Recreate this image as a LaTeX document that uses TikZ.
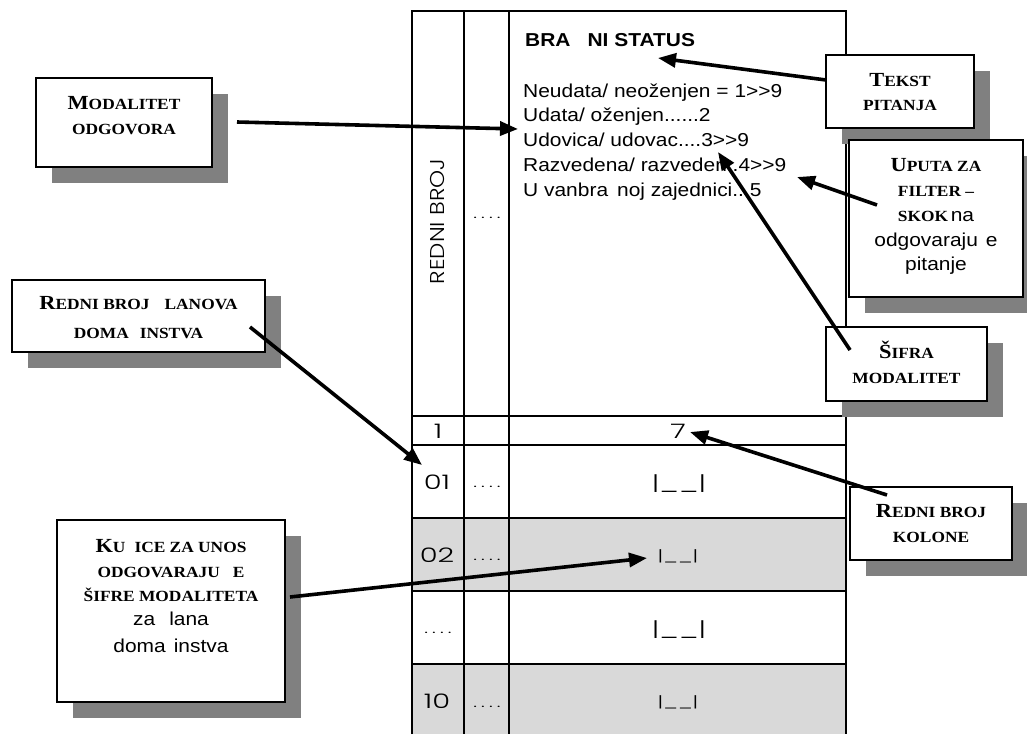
\documentclass[tikz,border=0pt]{standalone}
\usepackage{fontspec}
\setmainfont{Liberation Serif}[FakeStretch=1.12]
\newfontfamily\arialf{Liberation Sans}[FakeStretch=1.12]
\IfFontExistsTF{Poppins Light}{%
  \newfontfamily\gothf{Poppins Light}[FakeStretch=1.45]%
  \newfontfamily\gothv{Poppins Light}[FakeStretch=1.15]}{%
  \newfontfamily\gothf{Poppins}[FakeStretch=1.45]%
  \newfontfamily\gothv{Poppins}[FakeStretch=1.15]}
\usetikzlibrary{arrows.meta,shadows}
\newcommand\BigC[1]{{\fontsize{20}{24}\selectfont\bfseries #1}}
\newcommand\SmC[1]{{\fontsize{15.5}{18}\selectfont\bfseries #1}}
\newcommand\Ar[1]{{\arialf\fontsize{18.7}{25}\selectfont #1}}
\newcommand\qfont{\arialf\fontsize{18.7}{25}\selectfont}
\newcommand\gothfont{\gothf\fontsize{20}{24}\selectfont}
\newcommand\GTT{>\kern0pt>}
\newcommand\fourdots{.\kern4.2pt.\kern4.2pt.\kern4.2pt.}
\begin{document}
\begin{tikzpicture}[x=1pt,y=-1pt,
  callout/.style={draw=black,line width=1.4pt,fill=white,inner sep=0pt,
     drop shadow={shadow xshift=16pt,shadow yshift=-16pt,fill=black!50,opacity=1}},
  lbl/.style={inner sep=0pt,anchor=base},
  ptr/.style={line width=3.6pt,-{Triangle[length=18pt,width=14pt]}},
  tline/.style={line width=2.6pt},
  tthin/.style={line width=1.6pt},
  rowfill/.style={fill=black!15},
  qline/.style={inner sep=0pt,anchor=base west,font=\qfont},
  gt/.style={inner sep=0pt,font=\gothfont},
  dots/.style={inner sep=0pt,anchor=base,font=\gothf\fontsize{14}{18}\selectfont}
]
\useasboundingbox (0,0) rectangle (1027,734);

% ---------- table ----------
\fill[rowfill] (412,518) rectangle (846,591);
\fill[rowfill] (412,664) rectangle (846,734);
\draw[tline] (412,734) -- (412,11) -- (846,11) -- (846,734);
\draw[tline] (464,11) -- (464,734);
\draw[tline] (509,11) -- (509,734);
\draw[tthin] (412,416) -- (846,416);
\draw[tthin] (412,445) -- (846,445);
\draw[tline] (412,518) -- (846,518);
\draw[tline] (412,591) -- (846,591);
\draw[tline] (412,664) -- (846,664);

% question text
\node[inner sep=0pt,anchor=base west,font=\arialf\fontsize{18.7}{25}\selectfont\bfseries] (title) at (525,46.7) {BRA\hspace{17pt}NI STATUS};
\node[qline] (q1) at (523,97) {Neudata/ neoženjen = 1\GTT9};
\node[qline] (q2) at (523,121) {Udata/ oženjen......2};
\node[qline] (q3) at (523,146.5) {Udovica/ udovac....3\GTT9};
\node[qline] (q4) at (523,171.5) {Razvedena/ razveden..4\GTT9};
\node[qline] (q5) at (523,196.5) {U vanbra\hspace{9pt}noj zajednici...5};

% column texts
\node[inner sep=0pt,rotate=90,font=\gothv\fontsize{20}{24}\selectfont] (redni) at (437,221.5) {REDNI BROJ};
\node[dots] (d0) at (487,218) {\fourdots};
\node[gt,anchor=base] (h1) at (438,438) {1};
\node[gt,anchor=base] (h7) at (678,438) {7};
\node[gt,anchor=base] (r01) at (437,489) {01};
\node[gt,anchor=base] (r02) at (437,562) {02};
\node[dots] (rdd) at (438,633) {\fourdots};
\node[gt,anchor=base] (r10) at (437,708) {10};
\node[dots] (d1) at (487,487) {\fourdots};
\node[dots] (d2) at (487,560) {\fourdots};
\node[dots] (d4) at (487,707) {\fourdots};
\node[gt] (c1) at (679,484) {|\_\_|};
\node[gt,font=\gothf\fontsize{15}{18}\selectfont] (c2) at (678,556) {|\_\_|};
\node[gt] (c3) at (679,630) {|\_\_|};
\node[gt,font=\gothf\fontsize{15}{18}\selectfont] (c4) at (678,702) {|\_\_|};

% ---------- callout boxes ----------
\node[callout,minimum width=176pt,minimum height=89pt] (bMod) at (124,122.5) {};
\node[lbl] (tMod1) at (124,109) {\BigC{M}\SmC{ODALITET}};
\node[lbl] (tMod2) at (124,134) {\SmC{ODGOVORA}};

\node[callout,minimum width=148pt,minimum height=73pt] (bTek) at (900,91.5) {};
\node[lbl] (tTek1) at (900,86.7) {\BigC{T}\SmC{EKST}};
\node[lbl] (tTek2) at (900,110) {\SmC{PITANJA}};

\node[callout,minimum width=174pt,minimum height=157pt] (bUp) at (936,218.5) {};
\node[lbl] (tUp1) at (936,171.7) {\BigC{U}\SmC{PUTA ZA}};
\node[lbl] (tUp2) at (936,196.7) {\SmC{FILTER –}};
\node[lbl] (tUp3) at (936,221.7) {\SmC{SKOK} \Ar{na}};
\node[lbl] (tUp4) at (936,246) {\Ar{odgovaraju\hspace{8pt}e}};
\node[lbl] (tUp5) at (936,270) {\Ar{pitanje}};

\node[callout,minimum width=161pt,minimum height=74pt] (bSif) at (906.5,364) {};
\node[lbl] (tSif1) at (906.5,358) {\BigC{Š}\SmC{IFRA}};
\node[lbl] (tSif2) at (906.5,383) {\SmC{MODALITET}};

\node[callout,minimum width=162pt,minimum height=73pt] (bKol) at (931,523.5) {};
\node[lbl] (tKol1) at (931,517) {\BigC{R}\SmC{EDNI BROJ}};
\node[lbl] (tKol2) at (931,542) {\SmC{KOLONE}};

\node[callout,minimum width=253pt,minimum height=72pt] (bCl) at (138.5,316) {};
\node[lbl] (tCl1) at (138.5,309) {\BigC{R}\SmC{EDNI BROJ\hspace{15pt}LANOVA}};
\node[lbl] (tCl2) at (138.5,338) {\SmC{DOMA\hspace{11pt}INSTVA}};

\node[callout,minimum width=228pt,minimum height=182pt] (bKu) at (171,611) {};
\node[lbl] (tKu1) at (171,552) {\BigC{K}\SmC{U\hspace{9pt}ICE ZA UNOS}};
\node[lbl] (tKu2) at (171,577) {\SmC{ODGOVARAJU\hspace{13pt}E}};
\node[lbl] (tKu3) at (171,601) {\SmC{ŠIFRE MODALITETA}};
\node[lbl] (tKu4) at (171,625) {\Ar{za\hspace{14pt}lana}};
\node[lbl] (tKu5) at (171,652) {\Ar{doma\hspace{8pt}instva}};

% ---------- pointers ----------
\coordinate (a1s) at (237,122); \coordinate (a1e) at (518,129);
\coordinate (a2s) at (826,80);  \coordinate (a2e) at (658,58);
\coordinate (a3s) at (877,205); \coordinate (a3e) at (797,177);
\coordinate (a4s) at (850,350); \coordinate (a4e) at (718,152);
\coordinate (a5s) at (887,495); \coordinate (a5e) at (690,432);
\coordinate (a6s) at (250,327); \coordinate (a6e) at (422,465);
\coordinate (a7s) at (290,597); \coordinate (a7e) at (647,558);
\draw[ptr] (a1s) -- (a1e);
\draw[ptr] (a2s) -- (a2e);
\draw[ptr] (a3s) -- (a3e);
\draw[ptr] (a4s) -- (a4e);
\draw[ptr] (a5s) -- (a5e);
\draw[ptr] (a6s) -- (a6e);
\draw[ptr] (a7s) -- (a7e);
\end{tikzpicture}
\end{document}
